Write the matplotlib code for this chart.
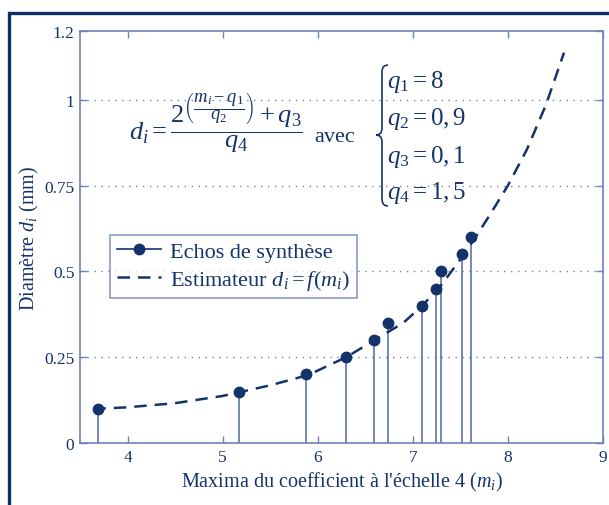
import numpy as np
import matplotlib.pyplot as plt
from matplotlib.path import Path
from matplotlib.patches import PathPatch, Rectangle
from matplotlib.lines import Line2D
from matplotlib.legend_handler import HandlerLine2D

# ---------- data ----------
m_points = [3.69, 5.17, 5.88, 6.30, 6.59, 6.74, 7.10, 7.24, 7.30, 7.52, 7.61]
d_points = [0.10, 0.15, 0.20, 0.25, 0.30, 0.35, 0.40, 0.45, 0.50, 0.55, 0.60]

# dashed estimator curve
m_curve = [3.64, 4.0, 4.5, 5.0, 5.5, 5.9, 6.3, 6.6, 6.9, 7.1, 7.3, 7.5,
           7.65, 7.8, 8.0, 8.2, 8.4, 8.59]
d_curve = [0.099, 0.104, 0.116, 0.137, 0.168, 0.198, 0.25, 0.30, 0.35, 0.40,
           0.46, 0.535, 0.595, 0.66, 0.75, 0.855, 0.985, 1.137]

x_ticks = [4, 5, 6, 7, 8, 9]
y_ticks = [0, 0.25, 0.5, 0.75, 1, 1.2]
y_labels = ["0", "0.25", "0.5", "0.75", "1", "1.2"]
grid_levels = [0.25, 0.5, 0.75, 1]
q_rows = [r"$q_1 = 8$", r"$q_2 = 0,9$", r"$q_3 = 0,1$", r"$q_4 = 1,5$"]
# -----------------------------------------------

NAVY = "#13336a"
FRAME = "#0c2f62"
AXC = "#6f82b8"
STEM = "#5067a3"

plt.rcParams["font.family"] = ["Liberation Serif", "DejaVu Serif"]
plt.rcParams["mathtext.fontset"] = "custom"
plt.rcParams["mathtext.rm"] = "Liberation Serif"
plt.rcParams["mathtext.it"] = "Liberation Serif:italic"
plt.rcParams["mathtext.bf"] = "Liberation Serif:bold"

W, H = 609, 506
fig = plt.figure(figsize=(W / 100, H / 100), dpi=100)
ax = fig.add_axes([80 / W, 1 - 444 / H, 523 / W, 412 / H])


def fxy(px, py):
    return px / W, 1 - py / H


# outer frame, runs off right and bottom edges
fig.patches.append(Rectangle(fxy(9, 540), (640 - 9) / W, (540 - 14) / H,
                             transform=fig.transFigure, fill=False,
                             edgecolor=FRAME, linewidth=2.4, zorder=0))

ax.plot(m_curve, d_curve, color=NAVY, lw=1.8, dashes=(5, 3.2), zorder=3)

# stems
ax.vlines(m_points, 0, d_points, color=STEM, lw=1.1, zorder=2)
ax.plot(m_points, d_points, "o", color=NAVY, ms=7.5, zorder=4)

for g in grid_levels:
    ax.axhline(g, color=AXC, lw=1.0, ls=(0, (1, 4)), zorder=1)

ax.set_xlim(3.5, 9)
ax.set_ylim(0, 1.2)
ax.set_xticks(x_ticks)
ax.set_yticks(y_ticks)
ax.set_yticklabels(y_labels)
ax.tick_params(direction="in", top=True, right=True, length=5, width=1,
               color=AXC, labelcolor=NAVY, labelsize=12.5, pad=4)
for s in ax.spines.values():
    s.set_color(AXC)
    s.set_linewidth(1.2)

ax.set_xlabel(r"Maxima du coefficient à l'échelle 4 ($m_i$)", color=NAVY,
              fontsize=14.5, labelpad=4)
ax.set_ylabel(r"Diamètre $d_i$ (mm)", color=NAVY, fontsize=14.5, labelpad=2)


class StemHandler(HandlerLine2D):
    def get_xdata(self, legend, xdescent, ydescent, width, height, fontsize):
        xdata = np.array([-xdescent, -xdescent + width])
        return xdata, np.array([-xdescent + width])


h_stem = Line2D([], [], color=NAVY, lw=1.2, marker="o", ms=7.5)
h_est = Line2D([], [], color=NAVY, lw=1.8, dashes=(5, 3.2))
leg = ax.legend([h_stem, h_est],
                ["Echos de synthèse", r"Estimateur $d_i = f(m_i)$"],
                handler_map={h_stem: StemHandler(numpoints=1)},
                loc="upper left", bbox_to_anchor=(30 / 523, (444 - 236) / 412),
                fontsize=16, frameon=True, fancybox=False, handlelength=2.0,
                handletextpad=0.4, borderpad=0.3, labelspacing=0.25,
                borderaxespad=0)
leg.get_frame().set_edgecolor(AXC)
leg.get_frame().set_linewidth(1.2)
for t in leg.get_texts():
    t.set_color(NAVY)

# formula
fig.text(*fxy(216, 124),
         r"$d_i = \dfrac{2^{\left(\dfrac{m_i - q_1}{q_2}\right)} + q_3}{q_4}$",
         color=NAVY, fontsize=19, ha="center", va="center")
fig.text(*fxy(335, 137), "avec", color=NAVY, fontsize=16,
         ha="center", va="center")

q_rows_y = [82, 119, 157, 193]
for txt, py in zip(q_rows, q_rows_y):
    fig.text(*fxy(387, py), txt, color=NAVY, fontsize=18,
             ha="left", va="center")

# curly brace
xt, xs, xe = 376, 382, 388
yt, ym, yb, r = 66, 136, 207, 7
pts = [(xe, yt), (xs, yt), (xs, yt + r),
       (xs, ym - r),
       (xs, ym), (xt, ym),
       (xs, ym), (xs, ym + r),
       (xs, yb - r),
       (xs, yb), (xe, yb)]
codes = [Path.MOVETO, Path.CURVE3, Path.CURVE3,
         Path.LINETO,
         Path.CURVE3, Path.CURVE3,
         Path.CURVE3, Path.CURVE3,
         Path.LINETO,
         Path.CURVE3, Path.CURVE3]
brace = Path([fxy(x, y) for x, y in pts], codes)
fig.patches.append(PathPatch(brace, transform=fig.transFigure, fill=False,
                             edgecolor=NAVY, lw=1.2))

fig.savefig("out.png", dpi=100)
